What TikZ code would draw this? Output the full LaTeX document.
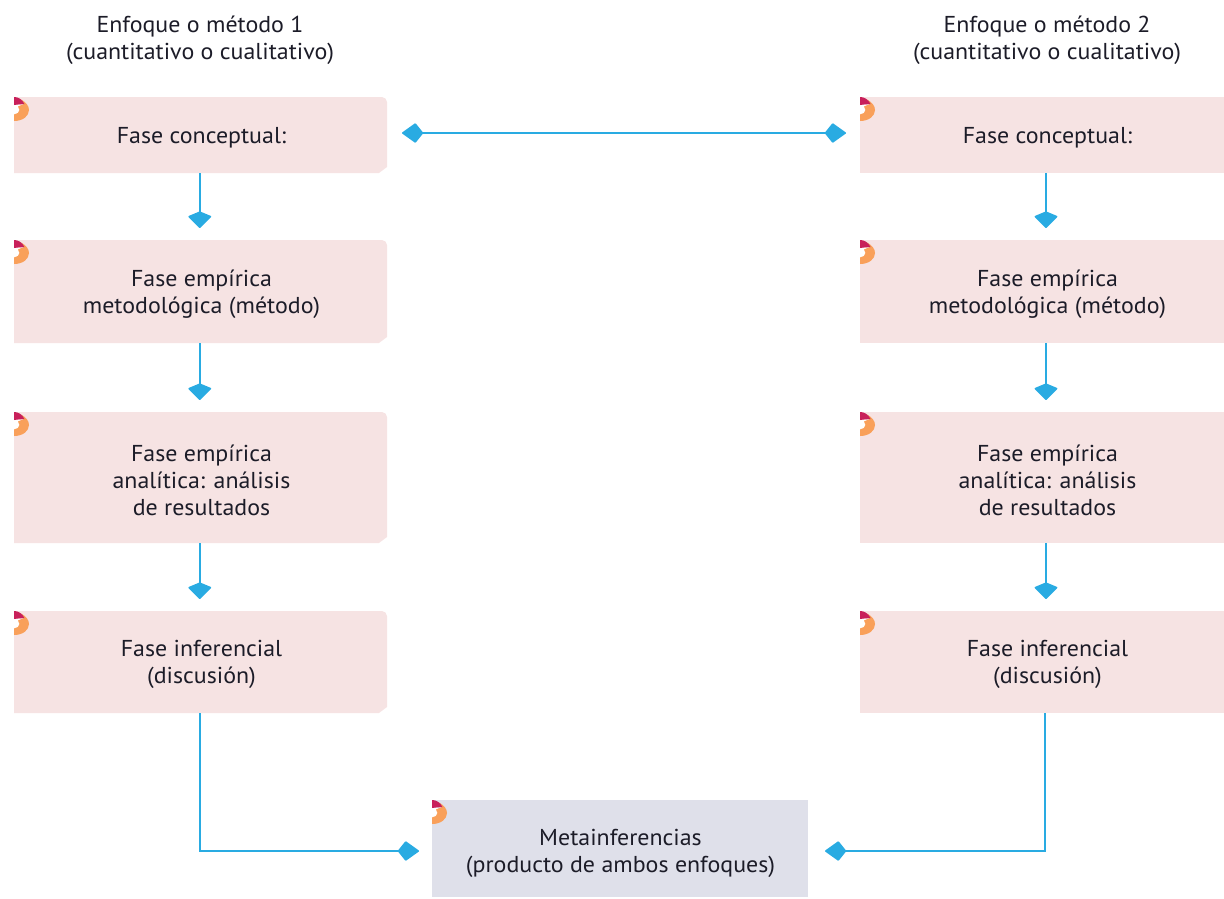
\documentclass[tikz,border=0pt]{standalone}
\usepackage{fontspec}
\setmainfont[FakeStretch=1.04]{PT Sans}
\usetikzlibrary{arrows.meta,calc}
\definecolor{pinkbox}{HTML}{F6E3E3}
\definecolor{bluebox}{HTML}{DFE0EA}
\definecolor{linkblue}{HTML}{29ABE2}
\definecolor{inkdark}{HTML}{1C1C28}
\definecolor{iconorange}{HTML}{F9A05A}
\definecolor{iconred}{HTML}{C8205A}
\tikzset{
  x=1pt,y=-1pt,
  txt/.style={text=inkdark,font=\fontsize{23}{27}\selectfont,align=center,inner sep=0pt},
  frame/.style={inner sep=0pt,outer sep=0pt},
  link/.style={draw=linkblue,line width=1.6pt},
  vhead/.style={-{Kite[length=17pt,width=24pt,inset=5pt,round]},link,shorten >=12pt},
  hhead/.style={-{Kite[length=22pt,width=20pt,inset=8pt,round]},link},
  dhead/.style={{Kite[length=22pt,width=20pt,inset=8pt,round]}-{Kite[length=22pt,width=20pt,inset=8pt,round]},link},
}
\newcommand{\markicon}[2]{%
  \begin{scope}[shift={(#1,#2)}]
    \fill[white] (0,8) rectangle (5.5,17.5);
    \fill[iconorange] (7,2.5) .. controls (12,5) and (15,9) .. (15,13)
      .. controls (15,19) and (9,24) .. (0,24) -- (0,17.5)
      .. controls (3,17) and (5.5,15.5) .. (5.5,13)
      .. controls (5.5,11) and (5,10.5) .. (4,9.5) -- (10,7) -- cycle;
    \fill[iconred] (0,0) .. controls (4,0) and (8,2) .. (10.5,7) -- (4,7.5) -- (0,8) -- cycle;
  \end{scope}
}
\newcommand{\frameat}[5]{%
  \node[frame,minimum width={(#4-#2)*1pt},minimum height={(#5-#3)*1pt}] (#1) at ({(#2+#4)/2},{(#3+#5)/2}) {};
}
\newcommand{\pinkbox}[6]{%
  \fill[pinkbox] (#2,#3) -- (#4-5,#3) -- (#4-1.5,#3+1.5) -- (#4,#3+5) -- (#4,#5-6) -- (#4-8,#5) -- (#2,#5) -- cycle;
  \markicon{#2}{#3}
  \frameat{#1}{#2}{#3}{#4}{#5}
  \node[txt] (#1t) at ({(#2+#4)/2+1},{(#3+#5)/2+2.7}) {#6};
}
\newcommand{\rightbox}[6]{%
  \fill[pinkbox] (#2,#3) rectangle (#4,#5);
  \markicon{#2}{#3}
  \frameat{#1}{#2}{#3}{#4}{#5}
  \node[txt] (#1t) at ({(#2+#4)/2+5.5},{(#3+#5)/2+2.7}) {#6};
}
\begin{document}
\begin{tikzpicture}
\useasboundingbox (0,0) rectangle (1224,898);
\node[txt] (ta) at (200,40) {Enfoque o método 1\\(cuantitativo o cualitativo)};
\node[txt] (tb) at (1047,40) {Enfoque o método 2\\(cuantitativo o cualitativo)};

\pinkbox{a1}{14}{97}{387}{173}{Fase conceptual:}
\pinkbox{a2}{14}{240}{387}{343}{Fase empírica\\metodológica (método)}
\pinkbox{a3}{14}{412}{387}{543}{Fase empírica\\analítica: análisis\\de resultados}
\pinkbox{a4}{14}{611}{387}{713}{Fase inferencial\\(discusión)}

\rightbox{b1}{860}{97}{1224}{173}{Fase conceptual:}
\rightbox{b2}{860}{240}{1224}{343}{Fase empírica\\metodológica (método)}
\rightbox{b3}{860}{412}{1224}{543}{Fase empírica\\analítica: análisis\\de resultados}
\rightbox{b4}{860}{611}{1224}{713}{Fase inferencial\\(discusión)}

\fill[bluebox] (432,800) rectangle (808,897);
\markicon{432}{800}
\frameat{m}{432}{800}{808}{897}
\node[txt] (mt) at (620.5,853.5) {Metainferencias\\(producto de ambos enfoques)};

% routing columns and rows of the connectors
\coordinate (la) at (199.8,0);
\coordinate (ra) at (1046,0);
\coordinate (rb) at (1045,0);
\coordinate (top) at (0,133);
\coordinate (low) at (0,851);

\draw[vhead] (a1.south -| la) -- (a2.north -| la);
\draw[vhead] (a2.south -| la) -- (a3.north -| la);
\draw[vhead] (a3.south -| la) -- (a4.north -| la);
\draw[vhead] (b1.south -| ra) -- (b2.north -| ra);
\draw[vhead] (b2.south -| ra) -- (b3.north -| ra);
\draw[vhead] (b3.south -| ra) -- (b4.north -| ra);
\draw[dhead,shorten <=15pt,shorten >=14pt] (a1.east |- top) -- (b1.west |- top);
\draw[hhead,shorten >=13pt] (a4.south -| la) -- (la |- low) -- (m.west |- low);
\draw[hhead,shorten >=17pt] (b4.south -| rb) -- (rb |- low) -- (m.east |- low);
\end{tikzpicture}
\end{document}
